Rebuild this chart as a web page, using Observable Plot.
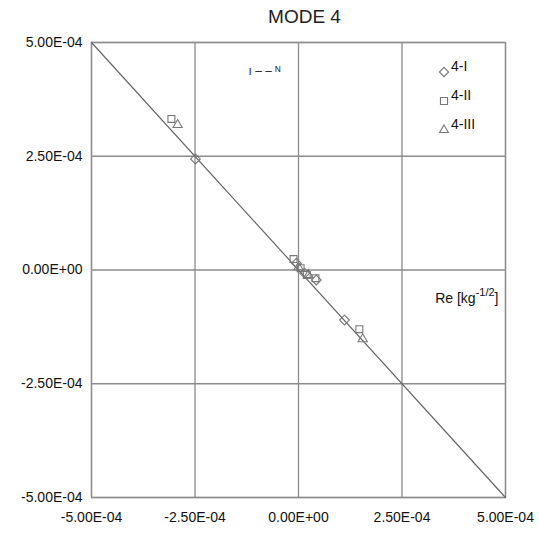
<!DOCTYPE html>
<html>
<head>
<meta charset="utf-8">
<script src="https://cdn.jsdelivr.net/npm/d3@7"></script>
<script src="https://cdn.jsdelivr.net/npm/@observablehq/plot@0.6"></script>
<style>
  body { margin: 0; background: #fff; }
  #chart svg { font-family: "Liberation Sans", Arial, sans-serif; }
</style>
</head>
<body>
<div id="chart"></div>
<script>
// Tick values
const ticks = [-5e-4, -2.5e-4, 0, 2.5e-4, 5e-4];
// Reference line (Re = -Im)
const refLine = [{x: -5e-4, y: 5e-4}, {x: 5e-4, y: -5e-4}];
// Series
const seriesNames = ["4-I", "4-II", "4-III"];
const seriesSymbols = ["diamond2", "square2", "triangle2"];
const s1x = [-2.49e-4, -0.05e-4, 0.15e-4, 0.43e-4, 1.11e-4];
const s1y = [2.44e-4, 0.15e-4, -0.07e-4, -0.22e-4, -1.10e-4];
const s2x = [-3.07e-4, -0.12e-4, 0.05e-4, 0.20e-4, 0.41e-4, 1.47e-4];
const s2y = [3.32e-4, 0.24e-4, 0.04e-4, -0.11e-4, -0.18e-4, -1.30e-4];
const s3x = [-2.92e-4, 0.00e-4, 0.24e-4, 1.55e-4];
const s3y = [3.19e-4, 0.06e-4, -0.11e-4, -1.52e-4];

const data = [];
[[s1x, s1y], [s2x, s2y], [s3x, s3y]].forEach(([xs, ys], i) => {
  xs.forEach((x, j) => data.push({x, y: ys[j], series: seriesNames[i]}));
});

function fmt(v) {
  if (Math.abs(v) < 1e-12) return "0.00E+00";
  const [m, e] = v.toExponential(2).split("e");
  const sign = e[0] === "-" ? "-" : "+";
  const n = Math.abs(+e).toString().padStart(2, "0");
  return `${m}E${sign}${n}`;
}

const grid = "#8c8c8c";
const chart = Plot.plot({
  width: 539,
  height: 534,
  marginLeft: 91,
  marginRight: 34,
  marginTop: 42,
  marginBottom: 37,
  style: {fontFamily: "Liberation Sans, Arial, sans-serif", fontSize: "14px", color: "#111"},
  x: {domain: [-5e-4, 5e-4], ticks, tickFormat: fmt, tickSize: 0, tickPadding: 15, label: null},
  y: {domain: [-5e-4, 5e-4], ticks, tickFormat: fmt, tickSize: 0, tickPadding: 9, label: null},
  symbol: {domain: seriesNames, range: seriesSymbols},
  marks: [
    Plot.gridX(ticks, {stroke: grid, strokeOpacity: 1, strokeWidth: 1.3}),
    Plot.gridY(ticks, {stroke: grid, strokeOpacity: 1, strokeWidth: 1.3}),
    Plot.frame({stroke: grid, strokeWidth: 1.3}),
    Plot.line(refLine, {x: "x", y: "y", stroke: "#666", strokeWidth: 1.2}),
    Plot.dot(data, {x: "x", y: "y", symbol: "series", r: 4.4, stroke: "#777", strokeWidth: 1.1, fill: "none"}),
    Plot.text(["MODE 4"], {frameAnchor: "top", dy: -20, dx: 6, fontSize: 19, fill: "#222", lineAnchor: "bottom"}),
    Plot.text(["ı ‒ ‒ ᴺ"], {frameAnchor: "top-left", dx: 157, dy: 24, fontSize: 12, fill: "#222", textAnchor: "start"}),
    Plot.text(["Re [kg-1/2]"], {frameAnchor: "right", dx: -7, dy: 33, textAnchor: "end", lineAnchor: "bottom", fontSize: 14, fill: "#111", className: "relabel"})
  ]
});

document.getElementById("chart").appendChild(chart);

// Legend (positioned relative to the frame's top-right corner)
const svg = d3.select(chart);
const frameRight = 539 - 34, frameTop = 42;
const lg = svg.append("g").attr("text-anchor", "start");
const legSyms = [d3.symbolDiamond2, d3.symbolSquare2, d3.symbolTriangle2];
seriesNames.forEach((name, i) => {
  const cy = frameTop + 30 + i * 29;
  const cx = frameRight - 61;
  lg.append("path")
    .attr("d", d3.symbol(legSyms[i], i === 1 ? 64 : 55)())
    .attr("transform", `translate(${cx},${cy})`)
    .attr("fill", "none").attr("stroke", "#777").attr("stroke-width", 1.1);
  lg.append("text").attr("x", cx + 7).attr("y", cy - 1)
    .attr("font-size", 14).attr("fill", "#111").text(name);
});

// Superscript in the axis label
svg.selectAll(".relabel text").each(function () {
  const t = d3.select(this);
  t.text(null);
  t.append("tspan").text("Re [kg");
  t.append("tspan").attr("dy", -7).attr("font-size", 11).text("-1/2");
  t.append("tspan").attr("dy", 7).text("]");
});
</script>
</body>
</html>
